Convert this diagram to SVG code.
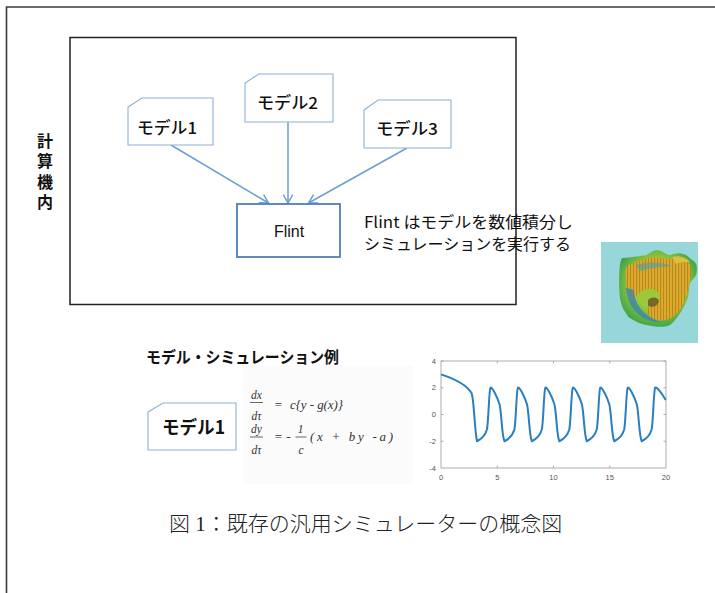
<svg xmlns="http://www.w3.org/2000/svg" width="715" height="593" viewBox="0 0 715 593">
  <defs>
    <style>
      .frame { fill: none; stroke: #3a3a3a; stroke-width: 1.6; }
      .box { fill: none; stroke: #222; stroke-width: 1.5; }
      .model { fill: #fff; stroke: #8eb0d6; stroke-width: 1.1; }
      .flint { fill: #fff; stroke: #4f7fb5; stroke-width: 1.8; }
      .conn { fill: none; stroke: #6a9fd6; stroke-width: 1.5; }
      .jp { font-family: "Noto Sans CJK JP", "Noto Sans", sans-serif; fill: #111; }
      .lbl { font-size: 16.5px; font-weight: 500; }
      .lat { font-family: "Liberation Sans", "Noto Sans", sans-serif; fill: #111; }
      .math { font-family: "Liberation Serif", serif; font-style: italic; font-size: 13px; fill: #333; }
      .frac { font-family: "Liberation Serif", serif; font-style: italic; font-size: 11.5px; fill: #333; }
      .mathr { font-family: "Liberation Serif", serif; font-size: 13px; fill: #333; }
      .bar { stroke: #444; stroke-width: 0.8; }
      .tick { font-family: "Liberation Sans", sans-serif; font-size: 7.5px; fill: #555; }
      .axis { fill: none; stroke: #9a9a9a; stroke-width: 0.8; }
    </style>
    <marker id="arrow" markerUnits="userSpaceOnUse" markerWidth="14" markerHeight="14" viewBox="-10 -7 12 14" refX="0" refY="0" orient="auto">
      <path d="M-8.5,-4.8 L0,0 L-8.5,4.8" fill="none" stroke="#6a9fd6" stroke-width="1.5"/>
    </marker>
    <pattern id="ridges" width="3" height="4" patternUnits="userSpaceOnUse">
      <rect width="3" height="4" fill="#dcaa2c"/>
      <rect width="1.1" height="4" fill="#b88a1e"/>
    </pattern>
    <radialGradient id="heartEdge" cx="0.5" cy="0.45" r="0.6">
      <stop offset="0.55" stop-color="#9cc83a"/>
      <stop offset="1" stop-color="#2f9f4c"/>
    </radialGradient>
  </defs>

  <!-- outer page frame (left and top edges only) -->
  <path class="frame" d="M6.5,593 L6.5,7 L715,7"/>

  <!-- computer boundary -->
  <rect class="box" x="70" y="37.5" width="446" height="267"/>

  <!-- vertical label -->
  <text id="label-computer" class="jp" x="45" y="133" font-size="16" font-weight="700" writing-mode="vertical-rl" letter-spacing="4.3">計算機内</text>

  <!-- connectors -->
  <g id="connectors">
    <line class="conn" x1="171" y1="145" x2="268.5" y2="203" marker-end="url(#arrow)"/>
    <line class="conn" x1="288" y1="122" x2="288" y2="203" marker-end="url(#arrow)"/>
    <line class="conn" x1="407" y1="148" x2="308.5" y2="203" marker-end="url(#arrow)"/>
  </g>

  <!-- model nodes -->
  <g id="model1">
    <path class="model" d="M128,107 L142,98 L213,98 L213,145 L128,145 Z"/>
    <text class="jp lbl" x="137" y="134" textLength="60" lengthAdjust="spacingAndGlyphs">モデル1</text>
  </g>
  <g id="model2">
    <path class="model" d="M245,83 L259,74 L333,74 L333,122 L245,122 Z"/>
    <text class="jp lbl" x="257" y="109" textLength="61" lengthAdjust="spacingAndGlyphs">モデル2</text>
  </g>
  <g id="model3">
    <path class="model" d="M364,110 L378,100 L451,100 L451,148 L364,148 Z"/>
    <text class="jp lbl" x="376" y="135" textLength="62" lengthAdjust="spacingAndGlyphs">モデル3</text>
  </g>

  <!-- integrator node -->
  <g id="flint">
    <rect class="flint" x="237" y="204" width="103" height="53"/>
    <text class="lat" x="289" y="236.5" font-size="16" text-anchor="middle">Flint</text>
  </g>

  <!-- description, two lines -->
  <text id="description" class="jp" font-size="15.5">
    <tspan x="364" y="227.5" textLength="209" lengthAdjust="spacingAndGlyphs">Flint はモデルを数値積分し</tspan>
    <tspan x="364" y="250" textLength="207" lengthAdjust="spacingAndGlyphs">シミュレーションを実行する</tspan>
  </text>

  <!-- heart rendering -->
  <g id="heart">
    <rect x="601" y="242" width="97" height="101" fill="#97d6d9"/>
    <path d="M621.7,258.3 C632,257 642,256 646.7,255 L651.7,251.7 C655,250 658,250 660,250.7 C664,252 667,255 670,255 C674,254 677,253 680,253.3 C685,254 688,256 690,258.3 C694,261 697,264 696.7,266.7 C697,271 697,274 695,276.7 C693,279 691,281 690,283.3 C689,288 689,292 688,296.7 C686,303 683,309 680,313.3 C676,319 673,323 670,325 C665,327 660,327 656.7,326.7 C650,326 645,325 640,323.3 C635,321 631,319 628.3,316.7 C625,312 622.5,308 621.7,305 C620,300 619.5,295 619.3,290 C619,284 619,278 619.3,273.3 C619.5,266 620.5,261 621.7,258.3 Z" fill="url(#heartEdge)"/>
    <path d="M627,266 C640,259 652,256 662,258 C670,260 676,258 684,259 C691,262 693,270 690,280 C688,290 686,300 680,310 C674,318 666,322 656,320 C650,318 646,314 648,308 C653,304 660,302 660,296 C658,290 650,287 644,290 C638,293 634,298 634,304 C630,298 626,290 626,280 C625,274 625,270 627,266 Z" fill="url(#ridges)"/>
    <path d="M626,288 C627,300 632,310 642,317 C648,321 656,323 662,322 C654,320 646,316 640,308 C636,302 634,296 634,290 Z" fill="#3a86b0" opacity="0.8"/>
    <path d="M648,300 C652,296 658,297 659,301 C658,306 652,308 648,306 Z" fill="#6b5a2a" opacity="0.85"/>
    <path d="M636,265 C648,261 662,262 672,266 C662,267 650,268 640,271 Z" fill="#3f9fb2" opacity="0.55"/>
    <path d="M672,257 C678,255 686,257 690,262 C686,262 680,262 676,264 Z" fill="#e2c446" opacity="0.85"/>
  </g>

  <!-- example section -->
  <text class="jp" x="146" y="363" font-size="16" font-weight="700" textLength="193" lengthAdjust="spacingAndGlyphs">モデル・シミュレーション例</text>

  <g id="model1-example">
    <path class="model" d="M148,412 L163,403 L236,403 L236,450 L148,450 Z"/>
    <text class="jp" x="162" y="433.5" font-size="18" font-weight="700" textLength="63" lengthAdjust="spacingAndGlyphs">モデル1</text>
  </g>

  <!-- model equations -->
  <g id="equations">
    <rect x="243" y="366" width="170" height="118" fill="#fbfbfb"/>
    <text class="frac" x="256.5" y="398.5" text-anchor="middle">dx</text>
    <line class="bar" x1="250" y1="402.5" x2="263" y2="402.5"/>
    <text class="frac" x="256.5" y="419.5" text-anchor="middle">dτ</text>
    <text class="mathr" x="278.5" y="409" text-anchor="middle">=</text>
    <text class="math" x="290" y="409" textLength="53" lengthAdjust="spacing">c{y  -  g(x)}</text>

    <text class="frac" x="256.5" y="433" text-anchor="middle">dy</text>
    <line class="bar" x1="250" y1="437" x2="263" y2="437"/>
    <text class="frac" x="256.5" y="453.5" text-anchor="middle">dτ</text>
    <text class="mathr" x="278.5" y="441" text-anchor="middle">=</text>
    <text class="mathr" x="288.5" y="441" text-anchor="middle">-</text>
    <text class="frac" x="300.5" y="433" text-anchor="middle" font-style="normal">1</text>
    <line class="bar" x1="295.5" y1="437" x2="306.5" y2="437"/>
    <text class="frac" x="301" y="453.5" text-anchor="middle">c</text>
    <text class="math" x="310" y="441" textLength="83" lengthAdjust="spacing">(x  +  by  -a)</text>
  </g>

  <!-- time series plot -->
  <g id="plot">
    <rect class="axis" x="441" y="361" width="225" height="107"/>
    <g stroke="#9a9a9a" stroke-width="0.8">
      <path d="M441,361 h2.5 M441,387.75 h2.5 M441,414.5 h2.5 M441,441.25 h2.5 M666,361 h-2.5 M666,387.75 h-2.5 M666,414.5 h-2.5 M666,441.25 h-2.5"/>
      <path d="M497.25,468 v-2.5 M553.5,468 v-2.5 M609.75,468 v-2.5 M497.25,361 v2.5 M553.5,361 v2.5 M609.75,361 v2.5"/>
    </g>
    <g class="tick" text-anchor="end">
      <text x="436" y="363.5">4</text>
      <text x="436" y="390.3">2</text>
      <text x="436" y="417">0</text>
      <text x="436" y="443.8">-2</text>
      <text x="436" y="470.5">-4</text>
    </g>
    <g class="tick" text-anchor="middle">
      <text x="441" y="479.5">0</text>
      <text x="497.25" y="479.5">5</text>
      <text x="553.5" y="479.5">10</text>
      <text x="609.75" y="479.5">15</text>
      <text x="666" y="479.5">20</text>
    </g>
    <path fill="none" stroke="#2a7fc0" stroke-width="2" stroke-linejoin="round"
      d="M441,374.4 C452,378 466,384 471.5,393 C474,398 474.5,430 477,441.25
         c4,-2 8,-5 10,-12 c1.5,-8 2,-38 3.4,-41.5 c1.6,-1.5 6.6,8.5 9.1,16.5 c2,7 2.3,32 4.95,37
         c4,-2 8,-5 10,-12 c1.5,-8 2,-38 3.4,-41.5 c1.6,-1.5 6.6,8.5 9.1,16.5 c2,7 2.3,32 4.95,37
         c4,-2 8,-5 10,-12 c1.5,-8 2,-38 3.4,-41.5 c1.6,-1.5 6.6,8.5 9.1,16.5 c2,7 2.3,32 4.95,37
         c4,-2 8,-5 10,-12 c1.5,-8 2,-38 3.4,-41.5 c1.6,-1.5 6.6,8.5 9.1,16.5 c2,7 2.3,32 4.95,37
         c4,-2 8,-5 10,-12 c1.5,-8 2,-38 3.4,-41.5 c1.6,-1.5 6.6,8.5 9.1,16.5 c2,7 2.3,32 4.95,37
         c4,-2 8,-5 10,-12 c1.5,-8 2,-38 3.4,-41.5 c1.6,-1.5 6.6,8.5 9.1,16.5 c2,7 2.3,32 4.95,37
         c4,-2 8,-5 10,-12 c1.5,-8 2,-38 3.4,-41.5 c1.6,-1.5 7,6 10.6,12.3"/>
  </g>

  <!-- caption -->
  <text x="169" y="531" font-family="'Liberation Serif', 'Noto Sans CJK JP', serif" font-size="21" font-weight="300" fill="#222">図 1：既存の汎用シミュレーターの概念図</text>
</svg>
